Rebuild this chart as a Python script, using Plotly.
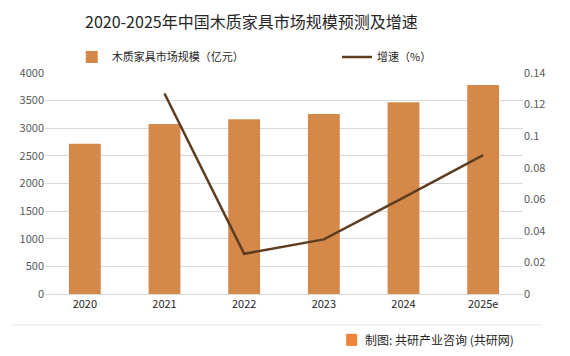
import plotly.graph_objects as go

categories = ["2020", "2021", "2022", "2023", "2024", "2025e"]
market_size = [2720, 3075, 3165, 3260, 3470, 3785]
growth_cats = ["2021", "2022", "2023", "2024", "2025e"]
growth_rate = [0.127, 0.0255, 0.0346, 0.061, 0.088]
left_ticks = [0, 500, 1000, 1500, 2000, 2500, 3000, 3500, 4000]
right_ticks = [0, 0.02, 0.04, 0.06, 0.08, 0.1, 0.12, 0.14]
right_tick_text = ["0", "0.02", "0.04", "0.06", "0.08", "0.1", "0.12", "0.14"]

FONT = "Noto Sans CJK SC, Liberation Sans, sans-serif"
TICK_COLOR = "#595959"
LEG_FONT = dict(family=FONT, size=11, color="#262626")

fig = go.Figure()
fig.add_trace(go.Bar(
    x=categories, y=market_size, name="木质家具市场规模（亿元）",
    marker=dict(color="#D4894A", line=dict(width=0)), yaxis="y", legend="legend",
))
fig.add_trace(go.Scatter(
    x=growth_cats, y=growth_rate, name="增速（%）", mode="lines",
    line=dict(color="#5E3C20", width=2.5), yaxis="y2", legend="legend2",
))

# page body has an 8px default margin, so the figure is sized/offset to compensate
fig.update_layout(
    width=562, height=348,
    margin=dict(l=37, r=47, t=65, b=62, autoexpand=False),
    paper_bgcolor="white", plot_bgcolor="white",
    font=dict(family=FONT, color=TICK_COLOR, size=11),
    bargap=0.6,
    showlegend=True,
    title=dict(text="2020-2025年中国木质家具市场规模预测及增速",
               x=0.433, xanchor="center", y=0.96, yanchor="middle",
               font=dict(family=FONT, size=16, color="#262626")),
    legend=dict(orientation="h", x=0.056, xanchor="left", y=1.072, yanchor="middle",
                font=LEG_FONT, bgcolor="rgba(0,0,0,0)"),
    legend2=dict(orientation="h", x=0.611, xanchor="left", y=1.072, yanchor="middle",
                 font=LEG_FONT, bgcolor="rgba(0,0,0,0)"),
    xaxis=dict(type="category", showgrid=False, showline=True, linecolor="#D9D9D9",
               ticks="", tickfont=dict(size=11, color="#262626")),
    yaxis=dict(range=[0, 4000], tickvals=left_ticks, showgrid=True,
               gridcolor="#D9D9D9", gridwidth=1, zeroline=False, ticks="",
               tickfont=dict(size=11, color=TICK_COLOR)),
    yaxis2=dict(range=[0, 0.14], tickvals=right_ticks, ticktext=right_tick_text,
                overlaying="y", side="right", showgrid=False, zeroline=False,
                ticks="", tickfont=dict(size=11, color=TICK_COLOR)),
    shapes=[
        dict(type="line", xref="paper", yref="paper", x0=-0.07, x1=1.04,
             y0=-0.14, y1=-0.14, line=dict(color="#E6E6E6", width=1)),
        dict(type="rect", xref="paper", yref="paper", x0=0.63, x1=0.653,
             y0=-0.235, y1=-0.18, fillcolor="#F0843A", line=dict(width=0)),
    ],
    annotations=[
        dict(text="制图: 共研产业咨询 (共研网)", xref="paper", yref="paper",
             x=0.985, y=-0.207, xanchor="right", yanchor="middle", showarrow=False,
             font=dict(family=FONT, size=12, color="#262626")),
    ],
)

fig.write_html("out.html")
